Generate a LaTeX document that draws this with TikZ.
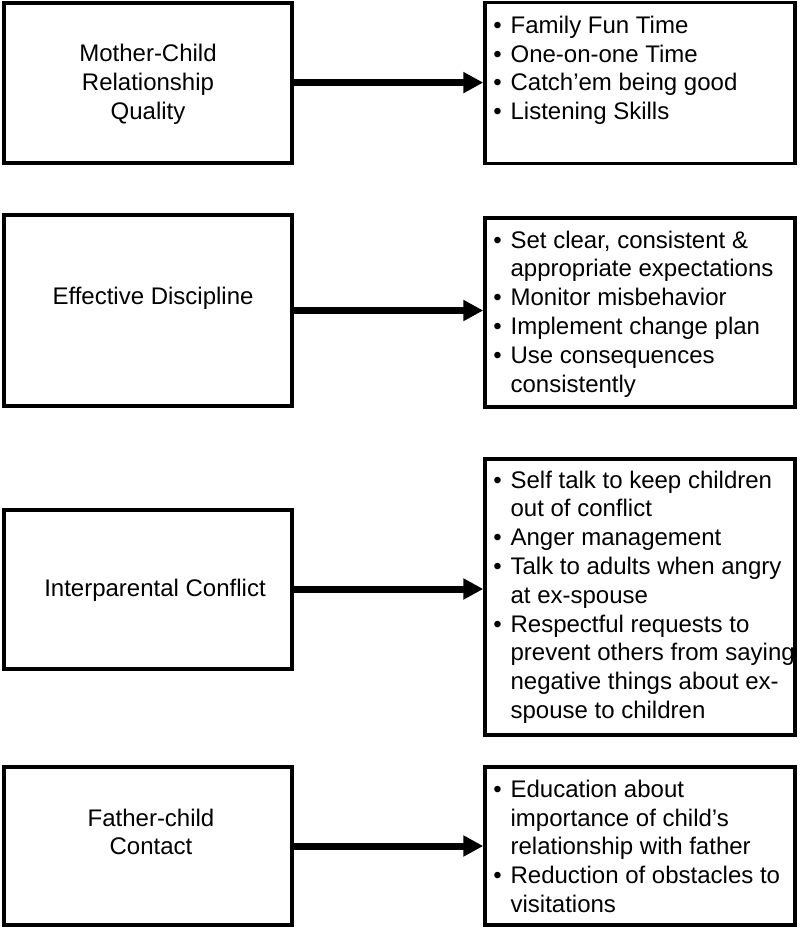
\documentclass[tikz,border=0pt]{standalone}
\usepackage{fontspec}
\setmainfont[Ligatures={TeX,NoCommon}]{Liberation Sans}
\usetikzlibrary{arrows.meta}

\newcommand{\bitem}{\makebox[13pt][l]{\textbullet}}
\newcommand{\bcont}{\hspace*{13pt}}

\begin{document}
\begin{tikzpicture}[x=0.75pt,y=-0.75pt,
        lbox/.style={draw, line width=3pt, minimum width=216pt, inner sep=0pt},
        rbox/.style={draw, line width=2.6pt, minimum width=232.5pt, inner sep=0pt},
        ltext/.style={align=center, inner sep=0pt, font=\fontsize{18}{21.6}\selectfont},
        rlist/.style={anchor=north west, align=left, inner sep=0pt, font=\fontsize{18}{21.6}\selectfont},
        link/.style={line width=5.25pt, -{Triangle[length=15pt,width=15pt]}}]

    \useasboundingbox (0,0) rectangle (800,930);

    % left column
    \node[lbox, minimum height=120pt] (l1) at (148,82.6) {};
    \node[lbox, minimum height=142.5pt] (l2) at (148,310.5) {};
    \node[lbox, minimum height=119.25pt] (l3) at (148,589) {};
    \node[lbox, minimum height=118.5pt] (l4) at (147.5,846) {};

    \node[ltext] (q1) at (148,84) {Mother-Child\\Relationship\\Quality};
    \node[ltext] (q2) at (153,298) {Effective Discipline};
    \node[ltext] (q3) at (155,590) {Interparental Conflict};
    \node[ltext] (q4) at (151,832) {Father-child\\Contact};

    % right column
    \node[rbox, minimum height=120.4pt] (r1) at (640,83) {};
    \node[rbox, minimum height=141.75pt] (r2) at (640,312.5) {};
    \node[rbox, minimum height=207pt] (r3) at (640,597) {};
    \node[rbox, minimum height=118.5pt] (r4) at (640,846) {};

    \node[rlist] (s1) at (493,15.7) {%
        \bitem Family Fun Time\\
        \bitem One-on-one Time\\
        \bitem Catch’em being good\\
        \bitem Listening Skills};
    \node[rlist] (s2) at (493,230.5) {%
        \bitem Set clear, consistent \&\\
        \bcont appropriate expectations\\
        \bitem Monitor misbehavior\\
        \bitem Implement change plan\\
        \bitem Use consequences\\
        \bcont consistently};
    \node[rlist] (s3) at (493,470.5) {%
        \bitem Self talk to keep children\\
        \bcont out of conflict\\
        \bitem Anger management\\
        \bitem Talk to adults when angry\\
        \bcont at ex-spouse\\
        \bitem Respectful requests to\\
        \bcont prevent others from saying\\
        \bcont negative things about ex-\\
        \bcont spouse to children};
    \node[rlist] (s4) at (493,779.7) {%
        \bitem Education about\\
        \bcont importance of child’s\\
        \bcont relationship with father\\
        \bitem Reduction of obstacles to\\
        \bcont visitations};

    % arrows
    \draw[link] (l1.east) -- (l1.east -| r1.west);
    \draw[link] (l2.east) -- (l2.east -| r2.west);
    \draw[link] (l3.east) -- (l3.east -| r3.west);
    \draw[link] (l4.east) -- (l4.east -| r4.west);

\end{tikzpicture}
\end{document}
